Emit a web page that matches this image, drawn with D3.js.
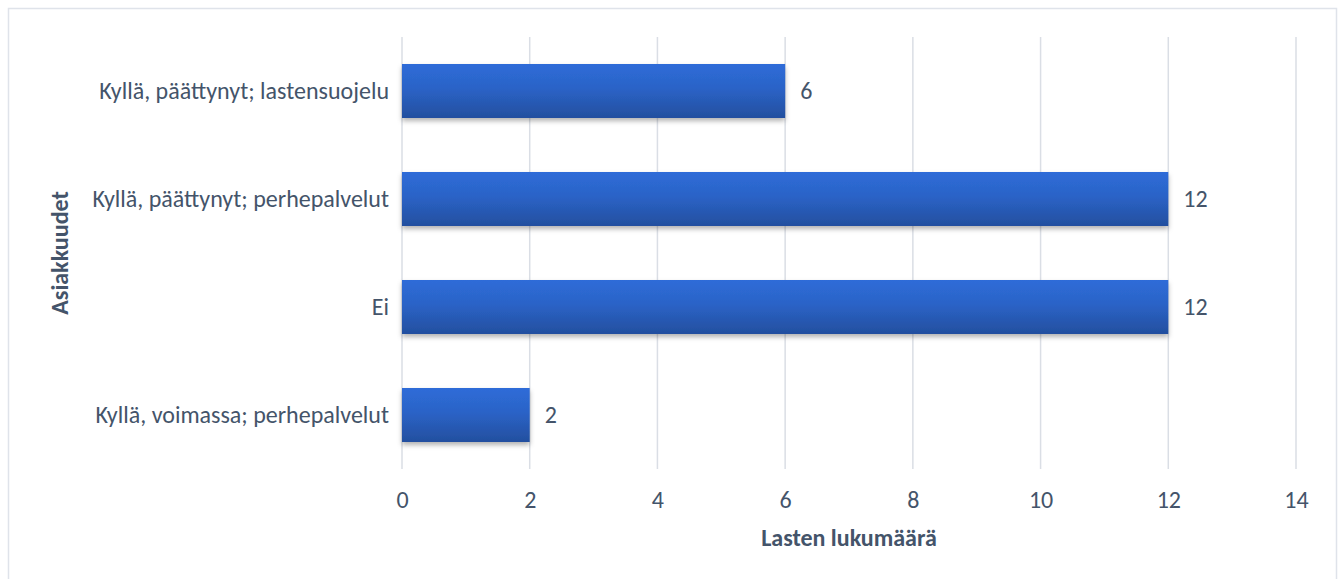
<!DOCTYPE html>
<html>
<head>
<meta charset="utf-8">
<script src="https://cdn.jsdelivr.net/npm/d3@7"></script>
<style>
  body { margin: 0; background: #fff; }
  text { font-family: Carlito, Calibri, Lato, "Open Sans", sans-serif; fill: #44546a; }
</style>
</head>
<body>
<div id="chart"></div>
<script>
const categories = ["Kyllä, päättynyt; lastensuojelu", "Kyllä, päättynyt; perhepalvelut", "Ei", "Kyllä, voimassa; perhepalvelut"];
const values = [6, 12, 12, 2];
const xTicks = [0, 2, 4, 6, 8, 10, 12, 14];

const W = 1344, H = 579;
const fontSize = "24px";
const svg = d3.select("#chart").append("svg")
  .attr("width", W)
  .attr("height", H);

// frame
svg.append("rect")
  .attr("x", 8.5).attr("y", 8.5)
  .attr("width", 1328).attr("height", 580)
  .attr("fill", "#fff")
  .attr("stroke", "#dfe3ea")
  .attr("stroke-width", 1.5);

const defs = svg.append("defs");
const grad = defs.append("linearGradient")
  .attr("id", "barGrad")
  .attr("x1", 0).attr("y1", 0).attr("x2", 0).attr("y2", 1);
grad.append("stop").attr("offset", "0%").attr("stop-color", "#2e6cd8");
grad.append("stop").attr("offset", "45%").attr("stop-color", "#2b63c7");
grad.append("stop").attr("offset", "100%").attr("stop-color", "#234f9f");

const shadow = defs.append("filter").attr("id", "shadow")
  .attr("x", "-5%").attr("y", "-20%").attr("width", "110%").attr("height", "150%");
shadow.append("feDropShadow")
  .attr("dx", 0).attr("dy", 3).attr("stdDeviation", 2.5)
  .attr("flood-color", "#000").attr("flood-opacity", 0.3);

const x = d3.scaleLinear().domain([0, 14]).range([402, 1296]);
const y = d3.scaleBand().domain(categories).range([37, 469]).paddingInner(0.5).paddingOuter(0.25);

// gridlines
svg.append("g")
  .selectAll("line")
  .data(xTicks)
  .join("line")
  .attr("x1", d => x(d)).attr("x2", d => x(d))
  .attr("y1", 37).attr("y2", 469)
  .attr("stroke", "#dadee5")
  .attr("stroke-width", 1.5);

// bars
svg.append("g")
  .selectAll("rect")
  .data(values)
  .join("rect")
  .attr("x", x(0))
  .attr("y", (d, i) => y(categories[i]))
  .attr("width", d => x(d) - x(0))
  .attr("height", y.bandwidth())
  .attr("fill", "url(#barGrad)")
  .attr("filter", "url(#shadow)");

// value labels
svg.append("g")
  .selectAll("text")
  .data(values)
  .join("text")
  .attr("x", d => x(d) + 15)
  .attr("y", (d, i) => y(categories[i]) + y.bandwidth() / 2)
  .attr("dy", "0.35em")
  .style("font-size", fontSize)
  .text(d => d);

// x axis tick labels
const xAxis = svg.append("g")
  .attr("transform", "translate(0,469)")
  .call(d3.axisBottom(x).tickValues(xTicks).tickSize(0).tickPadding(22));
xAxis.select(".domain").remove();
xAxis.selectAll("text")
  .style("font-size", fontSize)
  .style("font-family", "Carlito, Calibri, Lato, 'Open Sans', sans-serif")
  .attr("fill", "#44546a");

// y axis category labels
const yAxis = svg.append("g")
  .attr("transform", "translate(402,0)")
  .call(d3.axisLeft(y).tickSize(0).tickPadding(13));
yAxis.select(".domain").remove();
yAxis.selectAll("text")
  .style("font-size", fontSize)
  .style("font-family", "Carlito, Calibri, Lato, 'Open Sans', sans-serif")
  .attr("fill", "#44546a");

// axis titles
svg.append("text")
  .attr("x", 849)
  .attr("y", 546)
  .attr("text-anchor", "middle")
  .style("font-size", fontSize)
  .style("font-weight", "bold")
  .text("Lasten lukumäärä");

svg.append("text")
  .attr("text-anchor", "middle")
  .attr("transform", "translate(68,253)rotate(-90)")
  .style("font-size", fontSize)
  .style("font-weight", "bold")
  .text("Asiakkuudet");
</script>
</body>
</html>
